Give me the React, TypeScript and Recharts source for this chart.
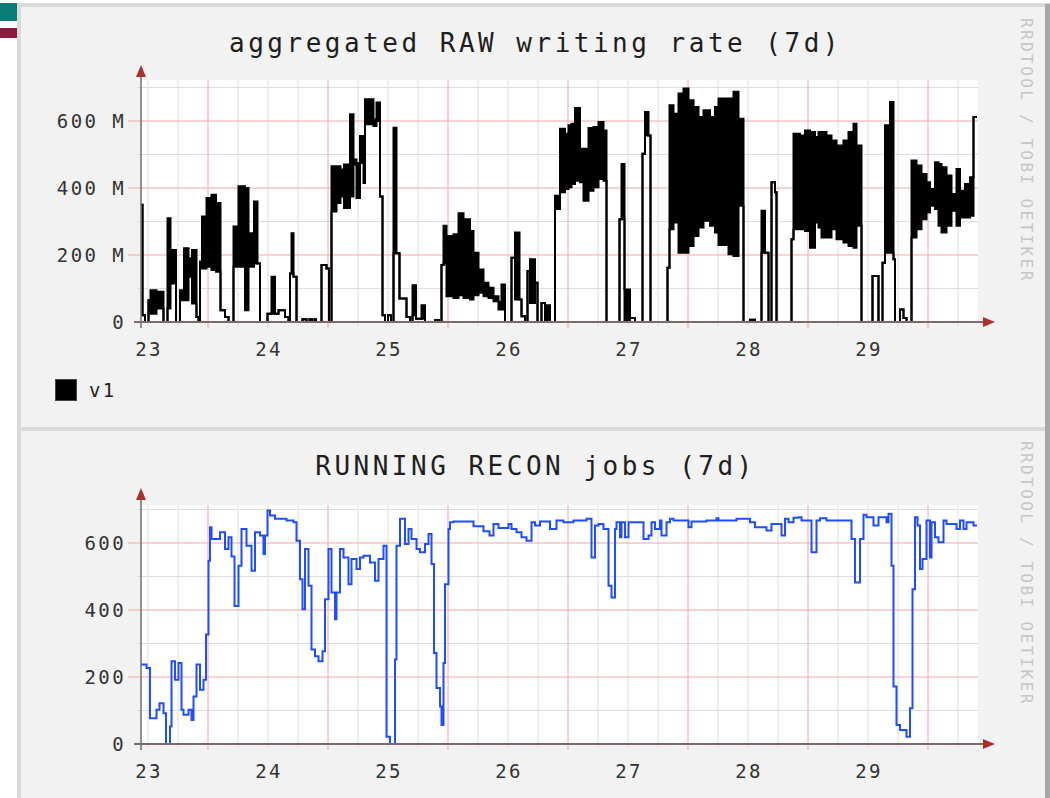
import React from 'react';
import { ComposedChart, Area, Line, XAxis, YAxis, CartesianGrid } from 'recharts';

// hours counted from day 23 00:00
const dayTicks = [0, 24, 48, 72, 96, 120, 144];
const dayLabels = ['23', '24', '25', '26', '27', '28', '29'];
const minorHours = [0, 6, 18, 24, 30, 42, 48, 54, 66, 72, 78, 90, 96, 102, 114, 120, 126, 138, 144, 150, 162];
const majorHours = [12, 36, 60, 84, 108, 132, 156];
const hourTicks = [0, 6, 12, 18, 24, 30, 36, 42, 48, 54, 60, 66, 72, 78, 84, 90, 96, 102, 108, 114, 120, 126, 132, 138, 144, 150, 156, 162];
const minorValues = [100, 300, 500, 700];
const majorValues = [200, 400, 600];
const valueTicks = [0, 100, 200, 300, 400, 500, 600, 700];
const labelledValues = [0, 200, 400, 600];
const rawTickLabels = ['0', '200 M', '400 M', '600 M'];
const jobTickLabels = ['0', '200', '400', '600'];

// aggregated RAW writing rate, MB/s (upper and lower envelope of each step)
const rawHours = [
  -1.4, -1.1, -0.6, 0.1, 0.5, 1.7, 3.1, 3.9, 4.5, 5.6, 6.4, 7.2, 8.1, 8.8, 9.7, 10.1, 10.4, 10.8, 11.7, 12.7,
  13.6, 14.5, 15.4, 16.1, 17.1, 18.1, 19.4, 20.1, 21.2, 21.9, 22.4, 23.9, 24.7, 25.4, 26.1, 27.4, 28.1, 28.4, 28.7, 29.1,
  29.7, 30.9, 31.7, 32.3, 32.8, 33.3, 33.6, 34.7, 35.7, 36.2, 36.7, 37.7, 38.5, 39.2, 40.1, 40.4, 41.1, 41.7, 42.4, 43.1,
  43.4, 45.1, 45.7, 46.4, 46.9, 47.4, 48.0, 48.6, 49.1, 49.7, 50.3, 51.7, 52.4, 52.9, 53.6, 54.7, 55.4, 57.4, 58.2, 58.7,
  59.1, 59.7, 61.1, 62.1, 63.1, 64.4, 65.1, 66.1, 67.1, 68.1, 69.1, 70.1, 70.7, 71.4, 72.7, 73.4, 74.3, 74.7, 75.4, 75.9,
  76.4, 77.4, 77.9, 78.7, 79.4, 80.4, 81.4, 82.4, 83.4, 84.1, 84.7, 85.4, 86.4, 87.1, 88.1, 89.1, 90.1, 91.1, 91.7, 94.3,
  94.7, 95.3, 96.4, 97.4, 98.9, 99.4, 100.1, 100.5, 103.9, 104.3, 105.1, 106.1, 107.1, 108.1, 109.1, 110.1, 111.1, 112.4, 113.4, 114.1,
  116.1, 117.1, 118.1, 119.1, 120.4, 121.4, 122.7, 123.4, 124.1, 124.7, 125.4, 125.7, 128.7, 129.1, 130.4, 131.4, 132.4, 133.4, 134.1, 134.7,
  135.7, 136.7, 137.7, 139.1, 140.1, 141.1, 141.7, 142.7, 144.9, 146.1, 146.9, 147.4, 148.4, 149.1, 149.4, 150.4, 151.1, 151.7, 152.7, 153.7,
  154.7, 155.7, 156.4, 157.4, 158.1, 158.7, 159.7, 160.7, 161.7, 162.4, 163.4, 164.4, 165.1, 165.8,
];
const rawHigh = [
  350, 20, 0, 65, 95, 90, 0, 310, 215, 0, 95, 220, 190, 215, 15, 0, 180, 315, 370, 380,
  355, 35, 15, 0, 285, 405, 400, 265, 360, 175, 0, 25, 135, 25, 35, 15, 0, 145, 265, 135,
  0, 8, 0, 8, 0, 8, 0, 170, 160, 0, 465, 465, 455, 470, 400, 620, 485, 475, 555, 555,
  665, 605, 655, 375, 20, 0, 20, 0, 580, 205, 70, 15, 0, 110, 10, 50, 0, 5, 0, 170,
  287, 257, 262, 325, 307, 272, 207, 157, 117, 102, 77, 60, 112, 0, 192, 267, 67, 17, 0, 152,
  187, 117, 0, 57, 50, 0, 377, 577, 562, 587, 592, 639, 517, 517, 579, 582, 597, 572, 0, 307,
  472, 97, 12, 0, 502, 627, 557, 0, 162, 647, 622, 682, 697, 662, 642, 612, 632, 612, 642, 667,
  667, 687, 607, 0, 7, 0, 332, 207, 0, 417, 387, 0, 247, 562, 557, 572, 567, 552, 567, 567,
  557, 542, 527, 542, 567, 592, 527, 0, 137, 0, 177, 587, 657, 187, 0, 37, 12, 0, 482, 467,
  442, 417, 397, 477, 472, 462, 437, 382, 457, 392, 412, 432, 612, 612,
];
const rawLow = [
  350, 20, 0, 65, 25, 40, 0, 40, 115, 0, 65, 65, 135, 55, 15, 0, 180, 160, 165, 155,
  150, 35, 15, 0, 165, 165, 35, 165, 175, 175, 0, 25, 25, 25, 35, 15, 0, 145, 145, 135,
  0, 8, 0, 8, 0, 8, 0, 170, 160, 0, 330, 355, 375, 340, 340, 375, 470, 370, 475, 415,
  590, 585, 600, 375, 20, 0, 20, 0, 205, 205, 70, 15, 0, 20, 10, 10, 0, 5, 0, 170,
  175, 77, 72, 80, 72, 67, 80, 87, 77, 72, 62, 37, 37, 0, 192, 67, 67, 17, 0, 152,
  57, 117, 0, 57, 0, 0, 337, 387, 397, 402, 412, 422, 417, 362, 392, 402, 427, 422, 0, 307,
  307, 0, 12, 0, 502, 557, 557, 0, 162, 277, 297, 207, 207, 227, 257, 282, 302, 287, 267, 230,
  202, 197, 347, 0, 7, 0, 207, 207, 0, 417, 387, 0, 247, 277, 277, 272, 222, 297, 282, 252,
  252, 277, 247, 237, 227, 222, 287, 0, 137, 0, 177, 207, 207, 187, 0, 37, 12, 0, 252, 277,
  307, 327, 347, 337, 287, 267, 287, 332, 287, 312, 312, 317, 612, 612,
];

// RUNNING RECON jobs
const reconHours = [
  -1.4, -0.3, 0.4, 1.7, 2.3, 3.1, 3.6, 4.4, 4.7, 5.4, 6.1, 6.7, 7.1, 8.1, 8.7, 9.1, 9.7, 10.4, 11.1, 11.6,
  12.1, 12.4, 12.7, 14.4, 15.4, 16.1, 16.7, 17.3, 18.1, 18.7, 19.7, 20.7, 21.4, 22.4, 23.1, 23.4, 23.9, 24.4, 25.4, 27.7,
  29.1, 29.7, 30.4, 30.9, 31.4, 32.1, 32.7, 33.4, 34.1, 34.9, 35.4, 36.1, 36.7, 37.4, 37.7, 38.4, 39.1, 40.1, 40.7, 41.7,
  42.4, 43.1, 44.4, 45.4, 46.1, 47.1, 47.7, 48.4, 49.4, 49.7, 50.4, 51.4, 52.1, 52.7, 53.7, 54.4, 55.4, 56.1, 56.7, 57.2,
  57.7, 58.4, 58.7, 59.1, 59.4, 60.1, 60.4, 61.1, 65.1, 67.1, 68.3, 69.1, 70.1, 72.1, 72.7, 73.7, 74.7, 75.7, 76.7, 77.4,
  78.4, 80.4, 81.7, 83.1, 85.1, 87.7, 88.7, 89.4, 90.1, 91.1, 92.1, 92.7, 93.4, 93.7, 94.4, 94.7, 95.4, 96.1, 99.1, 100.1,
  100.7, 101.4, 102.4, 102.7, 103.7, 104.4, 105.1, 108.1, 108.7, 111.7, 113.7, 114.1, 117.7, 120.4, 121.4, 123.7, 124.7, 126.7, 127.4, 128.1,
  129.1, 130.1, 130.7, 132.7, 133.7, 134.4, 135.7, 140.7, 141.4, 142.4, 143.1, 143.7, 145.1, 146.1, 147.7, 148.1, 148.7, 149.1, 149.7, 150.4,
  151.7, 152.4, 152.9, 153.4, 153.9, 154.4, 154.9, 155.7, 156.4, 156.7, 157.4, 158.1, 159.1, 159.7, 161.7, 162.4, 163.1, 163.7, 165.1, 165.8,
];
const reconJobs = [
  237, 227, 77, 102, 122, 92, 0, 52, 247, 192, 242, 102, 87, 102, 72, 142, 237, 162, 192, 327,
  547, 647, 612, 632, 582, 617, 560, 412, 532, 642, 592, 517, 632, 622, 567, 622, 697, 682, 672, 667,
  662, 607, 492, 402, 582, 472, 282, 262, 247, 277, 432, 582, 452, 372, 452, 582, 557, 477, 552, 522,
  557, 562, 542, 487, 552, 592, 22, 0, 252, 592, 672, 597, 642, 612, 582, 572, 597, 627, 537, 272,
  167, 112, 57, 242, 477, 642, 662, 664, 650, 635, 622, 657, 645, 657, 642, 632, 617, 607, 662, 652,
  664, 642, 667, 662, 667, 672, 557, 652, 657, 642, 472, 437, 642, 662, 617, 662, 617, 662, 612, 622,
  662, 642, 667, 622, 662, 672, 667, 647, 664, 667, 674, 667, 672, 662, 647, 637, 657, 622, 672, 662,
  675, 677, 667, 572, 667, 674, 667, 612, 482, 612, 684, 677, 652, 677, 662, 687, 532, 172, 57, 42,
  22, 107, 462, 677, 652, 522, 552, 667, 557, 662, 617, 602, 667, 657, 642, 667, 642, 662, 652, 652,
];

const rawData = rawHours.map((h, i) => ({ h, band: [rawLow[i], rawHigh[i]] }));
const reconData = reconHours.map((h, i) => ({ h, jobs: reconJobs[i] }));

const mono = '"DejaVu Sans Mono", monospace';
const labelStyle = { letterSpacing: '2.4px' };
const minorColor = '#dedede';
const majorColor = '#f2a6a6';

const HourTick = (props: any) => {
  const { x, y, payload } = props;
  const v = payload.value;
  const dayIndex = dayTicks.indexOf(v);
  const isMajor = majorHours.includes(v);
  return (
    <g>
      <line x1={x} y1={y} x2={x} y2={y + (isMajor ? 6 : 4)} stroke={isMajor ? majorColor : minorColor} />
      {dayIndex >= 0 && (
        <text x={x + 1} y={y + 27} textAnchor="middle" dominantBaseline="central"
          fontFamily={mono} fontSize={19} fill="#333" style={labelStyle}>
          {dayLabels[dayIndex]}
        </text>
      )}
    </g>
  );
};

const makeValueTick = (labels: string[]) => (props: any) => {
  const { x, y, payload } = props;
  const v = payload.value;
  const idx = labelledValues.indexOf(v);
  const isMajor = majorValues.includes(v);
  return (
    <g>
      {v > 0 && <line x1={x - (isMajor ? 13 : 4)} y1={y} x2={x} y2={y} stroke={isMajor ? majorColor : minorColor} />}
      {idx >= 0 && (
        <text x={x - 15} y={y} textAnchor="end" dominantBaseline="central"
          fontFamily={mono} fontSize={19} fill="#333" style={labelStyle}>
          {labels[idx]}
        </text>
      )}
    </g>
  );
};

function Panel({ top, height, marginTop, marginBottom, yMax, tickLabels, children, data }: any) {
  return (
    <div style={{ position: 'absolute', left: 0, top }}>
      <ComposedChart width={1050} height={height} data={data}
        margin={{ top: marginTop, right: 72, bottom: marginBottom - 40, left: 0 }}>
        <CartesianGrid fill="#ffffff" stroke={minorColor} verticalValues={minorHours} horizontalValues={minorValues} />
        <CartesianGrid stroke={majorColor} verticalValues={majorHours} horizontalValues={majorValues} />
        <XAxis type="number" dataKey="h" domain={[-1.4, 166]} ticks={hourTicks} interval={0} allowDataOverflow
          axisLine={false} tickLine={false} tickSize={0} tickMargin={0} height={40} tick={<HourTick />} />
        <YAxis type="number" domain={[0, yMax]} ticks={valueTicks} interval={0} allowDataOverflow
          width={141} axisLine={false} tickLine={false} tickSize={0} tickMargin={0}
          tick={makeValueTick(tickLabels)} />
        {children}
      </ComposedChart>
    </div>
  );
}

export default function App() {
  const axisColor = '#7d6b6b';
  const arrowColor = '#a9322c';
  return (
    <div style={{ position: 'absolute', left: 0, top: 0, width: 1050, height: 798, background: '#fff', overflow: 'hidden' }}>
      <div style={{ position: 'absolute', left: 0, top: 3, width: 17, height: 18, background: '#0b7b78' }} />
      <div style={{ position: 'absolute', left: 0, top: 28, width: 17, height: 10, background: '#8e1a44' }} />
      <div style={{ position: 'absolute', left: 17, top: 3, width: 1033, height: 795, background: '#dadada' }} />
      <div style={{ position: 'absolute', left: 21, top: 7, width: 1024, height: 420, background: '#f2f2f2' }} />
      <div style={{ position: 'absolute', left: 21, top: 431, width: 1024, height: 367, background: '#f2f2f2' }} />
      <div style={{ position: 'absolute', left: 1045, top: 4, width: 5, height: 794, background: '#a8a8a8' }} />

      <div style={{ position: 'absolute', left: 0, top: 28, width: 1071, textAlign: 'center', fontFamily: mono, fontSize: 26, lineHeight: '30px', color: '#1e1e1e', letterSpacing: '3.5px' }}>
        aggregated RAW writing rate (7d)
      </div>
      <div style={{ position: 'absolute', left: 0, top: 451, width: 1071, textAlign: 'center', fontFamily: mono, fontSize: 26, lineHeight: '30px', color: '#1e1e1e', letterSpacing: '3.5px' }}>
        RUNNING RECON jobs (7d)
      </div>

      <Panel top={0} height={430} marginTop={80} marginBottom={108} yMax={722.4} tickLabels={rawTickLabels} data={rawData}>
        <Area type="stepAfter" dataKey="band" stroke="#000" strokeWidth={2} fill="#000" fillOpacity={1}
          dot={false} activeDot={false} isAnimationActive={false} />
      </Panel>
      <Panel top={430} height={368} marginTop={75} marginBottom={54} yMax={713.4} tickLabels={jobTickLabels} data={reconData}>
        <Line type="stepAfter" dataKey="jobs" stroke="#1f4dff" strokeWidth={2}
          dot={false} activeDot={false} isAnimationActive={false} />
      </Panel>

      <svg width={1050} height={798} style={{ position: 'absolute', left: 0, top: 0, pointerEvents: 'none' }}>
        {[{ zero: 322, top: 74 }, { zero: 744, top: 497 }].map((a) => (
          <g key={a.zero}>
            <line x1={141} y1={a.zero + 6} x2={141} y2={a.top} stroke="#6f6f6f" strokeWidth={1.5} />
            <line x1={134} y1={a.zero} x2={986} y2={a.zero} stroke={axisColor} strokeWidth={2} />
            <polygon points={`141,${a.top - 9} 136,${a.top + 3} 146,${a.top + 3}`} fill={arrowColor} />
            <polygon points={`995,${a.zero} 983,${a.zero - 5} 983,${a.zero + 5}`} fill={arrowColor} />
          </g>
        ))}
      </svg>

      <div style={{ position: 'absolute', left: 55, top: 379, width: 22, height: 22, background: '#000', boxSizing: 'border-box', border: '1px solid #444' }} />
      <div style={{ position: 'absolute', left: 89, top: 376, fontFamily: mono, fontSize: 19, lineHeight: '28px', color: '#222', letterSpacing: '2.4px' }}>v1</div>

      <div style={{ position: 'absolute', left: 1017, top: 18, writingMode: 'vertical-rl', fontFamily: mono, fontSize: 16, lineHeight: '18px', color: '#c6c6c6', letterSpacing: '2.4px' }}>
        RRDTOOL / TOBI OETIKER
      </div>
      <div style={{ position: 'absolute', left: 1017, top: 441, writingMode: 'vertical-rl', fontFamily: mono, fontSize: 16, lineHeight: '18px', color: '#c6c6c6', letterSpacing: '2.4px' }}>
        RRDTOOL / TOBI OETIKER
      </div>
    </div>
  );
}
